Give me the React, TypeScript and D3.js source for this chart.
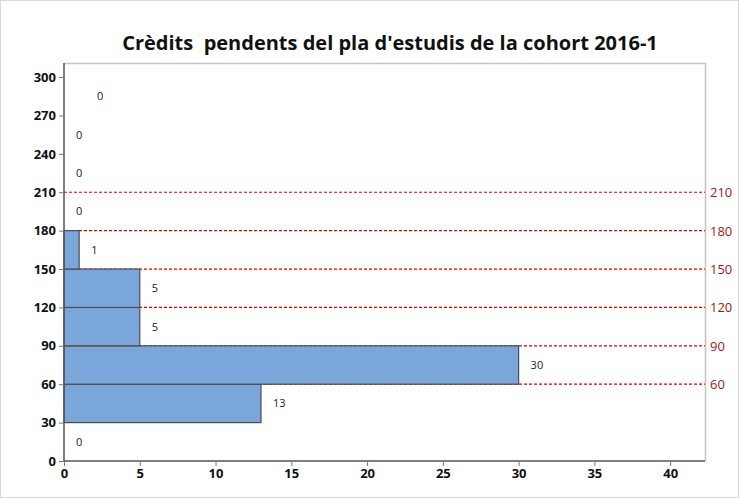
import { useEffect, useRef } from 'react'
import * as d3 from 'd3'

// Histogram bins (credits pending) and counts
const binStarts = [0, 30, 60, 90, 120, 150, 180, 210, 240, 270]
const binWidth = 30
const counts = [0, 13, 30, 5, 5, 1, 0, 0, 0, 0]
const yTicks = [0, 30, 60, 90, 120, 150, 180, 210, 240, 270, 300]
const xTicks = [0, 5, 10, 15, 20, 25, 30, 35, 40]
const refLines = [60, 90, 120, 150, 180, 210]
const TITLE = "Crèdits  pendents del pla d'estudis de la cohort 2016-1"

const W = 739
const H = 498
const ML = 64
const MR = 34
const MT = 63
const MB = 37
const FONT = "'Open Sans','Noto Sans',sans-serif"

export default function App() {
  const ref = useRef<SVGSVGElement>(null)

  useEffect(() => {
    const svg = d3.select(ref.current)
    svg.selectAll('*').remove()

    const x = d3.scaleLinear().domain([0, 42.3]).range([ML, W - MR])
    const y = d3.scaleLinear().domain([0, 311]).range([H - MB, MT])

    svg.append('rect').attr('x', 0.5).attr('y', 0.5).attr('width', W - 1).attr('height', H - 1)
      .attr('fill', 'white').attr('stroke', '#d9d9d9')

    svg.append('text').attr('x', 390).attr('y', 50).attr('text-anchor', 'middle')
      .attr('font-family', FONT).attr('font-size', 20).attr('font-weight', 700)
      .attr('fill', '#111').style('white-space', 'pre').text(TITLE)

    // frame top/right
    svg.append('path')
      .attr('d', `M${ML},${MT + 0.5}H${W - MR + 0.5}V${H - MB}`)
      .attr('fill', 'none').attr('stroke', '#c4c4c4').attr('stroke-width', 1.5)

    // reference lines (behind the bars)
    const rl = svg.append('g')
    refLines.forEach((v) => {
      rl.append('line').attr('x1', ML).attr('x2', W - MR).attr('y1', y(v)).attr('y2', y(v))
        .attr('stroke', '#e00000').attr('stroke-width', 1.2).attr('stroke-dasharray', '3,2')
      rl.append('text').attr('x', W - MR + 5).attr('y', y(v) + 5)
        .attr('font-family', FONT).attr('font-size', 13).attr('fill', '#a01818')
        .text(v)
    })

    // bars
    svg.append('g').selectAll('rect')
      .data(binStarts.map((b, i) => ({ b, c: counts[i] })).filter((d) => d.c > 0))
      .join('rect')
      .attr('x', x(0))
      .attr('y', (d) => y(d.b + binWidth))
      .attr('width', (d) => x(d.c) - x(0))
      .attr('height', (d) => y(d.b) - y(d.b + binWidth))
      .attr('fill', '#7ba6d9')
      .attr('stroke', '#4d4d4d')
      .attr('stroke-width', 1.2)

    // count labels
    svg.append('g').selectAll('text')
      .data(binStarts.map((b, i) => ({ b, c: counts[i], last: i === binStarts.length - 1 })))
      .join('text')
      .attr('x', (d) => x(d.c) + (d.last ? 33 : 12))
      .attr('y', (d) => y(d.b + binWidth / 2) + 4)
      .attr('font-family', FONT).attr('font-size', 11).attr('fill', '#222')
      .text((d) => d.c)

    // axes
    const ya = svg.append('g').attr('transform', `translate(${ML},0)`)
      .call(d3.axisLeft(y).tickValues(yTicks).tickSize(5).tickSizeOuter(0))
    const xa = svg.append('g').attr('transform', `translate(0,${H - MB})`)
      .call(d3.axisBottom(x).tickValues(xTicks).tickSize(5).tickSizeOuter(0))
    ;[ya, xa].forEach((a) => {
      a.select('.domain').attr('stroke', '#555').attr('stroke-width', 1.5)
      a.selectAll('line').attr('stroke', '#777')
      a.selectAll('text').attr('font-family', FONT).attr('font-size', 13)
        .attr('font-weight', 700).attr('fill', '#111')
    })
    ya.select('.domain').attr('d', `M0,${H - MB}V${MT}`)
    xa.select('.domain').attr('d', `M${ML},0H${W - MR}`)
    ya.selectAll('text').attr('x', -8)
    xa.selectAll('text').attr('y', 8)
  }, [])

  return (
    <div style={{ position: 'fixed', left: 0, top: 0 }}>
      <svg ref={ref} width={W} height={H} style={{ display: 'block' }} />
    </div>
  )
}
